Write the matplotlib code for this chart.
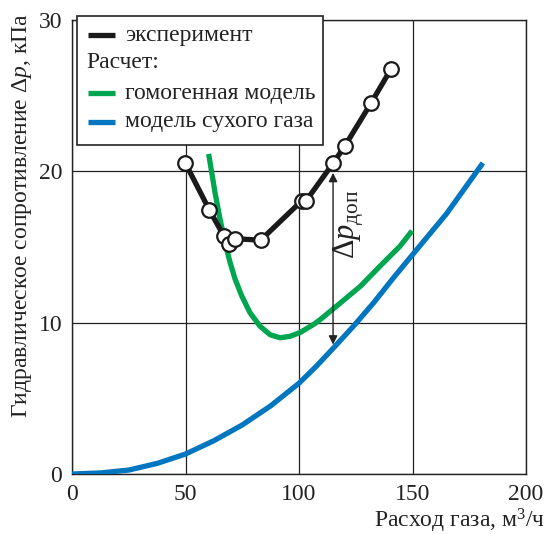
import matplotlib
matplotlib.use("Agg")
import matplotlib.pyplot as plt
from matplotlib.lines import Line2D
from matplotlib.patches import Rectangle

plt.rcParams['font.family'] = ['Liberation Serif', 'DejaVu Serif']
plt.rcParams['mathtext.fontset'] = 'custom'
plt.rcParams['mathtext.rm'] = 'Liberation Serif'
plt.rcParams['mathtext.it'] = 'Liberation Serif:italic'

# ---- data ----
exp_x = [49.9, 60.5, 67.0, 69.3, 71.7, 83.1, 101.2, 103.1, 115.1, 120.3, 131.7, 140.5]
exp_y = [20.55, 17.45, 15.7, 15.2, 15.55, 15.45, 18.05, 18.05, 20.55, 21.7, 24.5, 26.75]

hom_x = [60.2, 63.0, 65.2, 67.4, 69.6, 71.8, 74.8, 78.4, 82.8, 87.3, 91.7, 96.1,
         100.5, 106.4, 109.3, 118.2, 127.0, 135.8, 144.6, 149.8]
hom_y = [21.15, 18.6, 16.85, 15.3, 14.0, 12.9, 11.76, 10.66, 9.77, 9.2, 9.0, 9.1,
         9.35, 9.88, 10.2, 11.3, 12.4, 13.75, 15.07, 16.07]

dry_x = [0, 12.5, 25, 37.5, 50, 62.5, 75, 87.5, 100, 107.5, 115.2, 124, 132.8,
         141.7, 152, 165, 181]
dry_y = [0, 0.07, 0.26, 0.7, 1.32, 2.2, 3.24, 4.5, 6.0, 7.1, 8.33, 9.77, 11.3,
         12.98, 14.85, 17.2, 20.55]

xticks = [0, 50, 100, 150, 200]
yticks = [0, 10, 20, 30]

legend_labels = ['эксперимент', 'Расчет:', 'гомогенная модель', 'модель сухого газа']

dp_x = 115
dp_top = 19.9
dp_bot = 8.55

black = '#1a1a1a'
green = '#00a54f'
blue = '#0076c0'
ink = '#222222'

W, H = 551, 534
fig = plt.figure(figsize=(W / 100, H / 100), dpi=100)
ax = fig.add_axes([72 / W, 1 - 474 / H, (526 - 72) / W, (474 - 20) / H])

ax.set_xlim(0, 200)
ax.set_ylim(0, 30)
ax.set_xticks(xticks)
ax.set_yticks(yticks)
ax.tick_params(length=0, labelsize=17, pad=7, colors=ink)
ax.grid(True, color=ink, linewidth=0.9)
for s in ax.spines.values():
    s.set_color(ink)
    s.set_linewidth(1.0)

ax.plot(dry_x, dry_y, color=blue, lw=3.8, solid_capstyle='butt',
        solid_joinstyle='round', zorder=3)
ax.plot(hom_x, hom_y, color=green, lw=3.8, solid_capstyle='butt',
        solid_joinstyle='round', zorder=3)
ax.plot(exp_x, exp_y, color=black, lw=3.8, zorder=4, marker='o', ms=10.5,
        mfc='white', mec=black, mew=1.6, solid_joinstyle='round')

ax.annotate('', xy=(dp_x, dp_bot), xytext=(dp_x, dp_top),
            arrowprops=dict(arrowstyle='<|-|>', color=ink, lw=1.0,
                            mutation_scale=13, shrinkA=0, shrinkB=0), zorder=5)
ax.text(122.4, 16.5, r'$\Delta p_{\mathrm{доп}}$', rotation=90,
        ha='center', va='center', fontsize=22, color=ink)

# legend (manual)
def fx(px):
    return px / W

def fy(py):
    return 1 - py / H

fig.patches.append(Rectangle((fx(77), fy(145)), fx(323) - fx(77), fy(16) - fy(145),
                             transform=fig.transFigure, facecolor='white',
                             edgecolor=ink, lw=1.2, zorder=10))
rows = [35, 63, 93, 122]
handles = [black, None, green, blue]
for py, lab, c in zip(rows, legend_labels, handles):
    if c is not None:
        fig.lines.append(Line2D([fx(88), fx(115)], [fy(py), fy(py)],
                                transform=fig.transFigure, color=c, lw=3.8,
                                solid_capstyle='butt', zorder=11))
        fig.text(fx(125), fy(py), lab, ha='left', va='center', fontsize=17,
                 color=ink, zorder=11)
    else:
        fig.text(fx(86), fy(py), lab, ha='left', va='center', fontsize=17,
                 color=ink, zorder=11)

fig.text(fx(545), fy(521), 'Расход газа, м$^3$/ч', ha='right', va='center',
         fontsize=17, color=ink)
fig.text(fx(22), fy(216), r'Гидравлическое сопротивление $\Delta p$, кПа',
         rotation=90, ha='center', va='center', fontsize=17, color=ink)

fig.savefig('out.png', dpi=100)
